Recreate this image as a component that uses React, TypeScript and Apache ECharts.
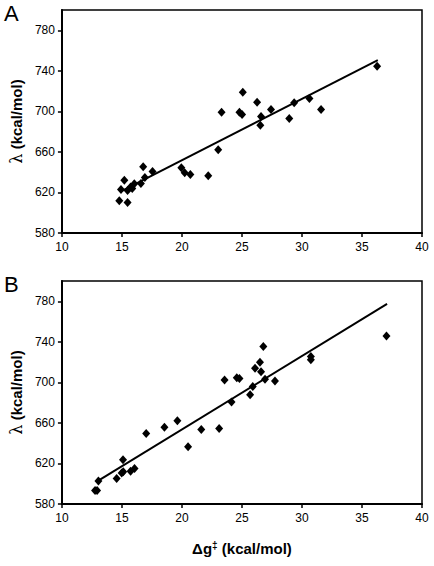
import React, { useEffect, useRef } from "react";
import * as echarts from "echarts";

// Panel A data: Δg‡ (kcal/mol) vs λ (kcal/mol)
const aX = [14.78, 14.92, 15.2, 15.47, 15.47, 15.72, 15.86, 16.03, 16.58, 16.77, 16.91, 17.55, 19.95, 20.23, 20.7, 22.19, 23.02, 23.3, 24.79, 25.01, 25.07, 26.26, 26.53, 26.59, 27.42, 28.94, 29.35, 30.62, 31.59, 36.26];
const aY = [611.7, 622.9, 632.1, 610, 621.9, 625.5, 623.9, 628.5, 628.8, 645.3, 634.8, 640.7, 644.4, 639.4, 637.8, 636.4, 662.2, 699.1, 699.1, 696.8, 718.9, 709, 686.3, 694.9, 701.8, 692.9, 708.4, 712.7, 701.8, 744.4];
const aFitX = [14.84, 36.32];
const aFitY = [620.6, 750.6];

// Panel B data
const bX = [12.76, 12.93, 13.04, 14.56, 15.09, 14.98, 15.11, 15.72, 16.05, 17.02, 18.54, 19.62, 20.51, 21.61, 23.1, 23.55, 24.13, 24.57, 24.79, 25.68, 25.9, 26.09, 26.5, 26.59, 26.78, 26.92, 27.75, 30.74, 30.74, 37.04];
const bY = [593.3, 593.3, 602.7, 605.2, 623.7, 610.7, 611.7, 612.4, 615, 649.6, 655.7, 662.2, 636.6, 653.5, 654.4, 702.3, 680.6, 704.6, 703.9, 687.8, 695.9, 714, 719.8, 710.4, 735.3, 703, 701.4, 725.6, 722.4, 745.7];
const bFitX = [12.9, 37.09];
const bFitY = [602, 777.4];

const panelLabels = ["A", "B"];
const yTitle = "{sym|λ} (kcal/mol)";
const xTitle = "Δg{sup|‡} (kcal/mol)";

const FONT = "Liberation Sans, Arial, sans-serif";

function pairs(xs: number[], ys: number[]) {
  return xs.map((x, i) => [x, ys[i]]);
}

const titleStyle = {
  color: "#000",
  fontSize: 15,
  fontWeight: "bold",
  fontFamily: FONT,
  rich: {
    sym: { fontSize: 16, fontWeight: "normal", fontFamily: "DejaVu Serif, serif", color: "#000" },
    sup: { fontSize: 10, fontWeight: "bold", fontFamily: FONT, color: "#000", verticalAlign: "top", padding: [0, 0, 6, 0] },
  },
};

export default function App() {
  const ref = useRef<HTMLDivElement>(null);
  useEffect(() => {
    if (!ref.current) return;
    const chart = echarts.init(ref.current, null, { renderer: "svg" });
    const gridTops = [10, 281];
    const mkX = (i: number) => ({
      type: "value",
      gridIndex: i,
      min: 10,
      max: 40,
      interval: 5,
      splitLine: { show: false },
      axisLine: { show: true, onZero: false, lineStyle: { color: "#000", width: 2 } },
      axisTick: { show: true, inside: false, length: 4, lineStyle: { color: "#000", width: 1.5 } },
      axisLabel: { color: "#000", fontSize: 12, fontFamily: FONT, margin: 8 },
      name: i === 1 ? xTitle : "",
      nameLocation: "middle",
      nameGap: 36,
      nameTextStyle: titleStyle,
    });
    const mkY = (i: number) => ({
      type: "value",
      gridIndex: i,
      min: 580,
      max: 800,
      interval: 40,
      splitLine: { show: false },
      axisLine: { show: true, onZero: false, lineStyle: { color: "#000", width: 2 } },
      axisTick: { show: true, inside: false, length: 4, lineStyle: { color: "#000", width: 1.5 } },
      axisLabel: { color: "#000", fontSize: 12, fontFamily: FONT, margin: 7, showMaxLabel: false },
      name: yTitle,
      nameLocation: "middle",
      nameGap: 37,
      nameTextStyle: titleStyle,
    });
    const scatter = (i: number, xs: number[], ys: number[]) => ({
      type: "scatter",
      xAxisIndex: i,
      yAxisIndex: i,
      symbol: "diamond",
      symbolSize: [8, 9],
      itemStyle: { color: "#000", opacity: 1 },
      data: pairs(xs, ys),
      z: 3,
    });
    const fit = (i: number, xs: number[], ys: number[]) => ({
      type: "line",
      xAxisIndex: i,
      yAxisIndex: i,
      showSymbol: false,
      symbol: "none",
      lineStyle: { color: "#000", width: 2 },
      data: pairs(xs, ys),
      z: 4,
    });
    chart.setOption({
      animation: false,
      backgroundColor: "#fff",
      textStyle: { fontFamily: FONT },
      grid: gridTops.map((t) => ({
        left: 60,
        top: t,
        width: 362,
        height: 223,
        show: true,
        borderColor: "#000",
        borderWidth: 1.5,
        backgroundColor: "transparent",
      })),
      xAxis: [mkX(0), mkX(1)],
      yAxis: [mkY(0), mkY(1)],
      series: [
        scatter(0, aX, aY),
        fit(0, aFitX, aFitY),
        scatter(1, bX, bY),
        fit(1, bFitX, bFitY),
      ],
      graphic: panelLabels.map((t, i) => ({
        type: "text",
        left: 4,
        top: i === 0 ? 2 : 273,
        style: { text: t, fontSize: 22, fontFamily: FONT, fill: "#000" },
      })),
    });
    return () => chart.dispose();
  }, []);
  return (
    <div
      ref={ref}
      style={{ position: "absolute", left: 0, top: 0, width: 434, height: 566, background: "#fff" }}
    />
  );
}
